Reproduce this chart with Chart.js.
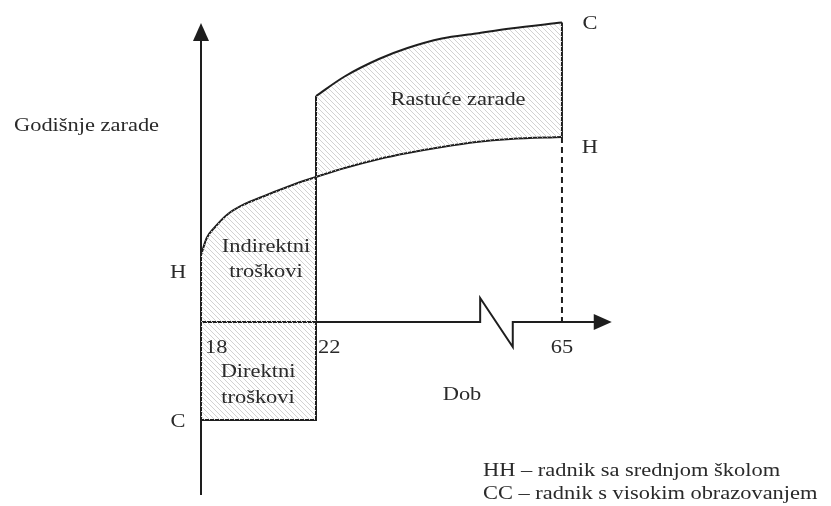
<!DOCTYPE html>
<html><head><meta charset="utf-8">
<script src="https://cdn.jsdelivr.net/npm/chart.js@4/dist/chart.umd.min.js"></script>
<style>html,body{margin:0;padding:0;background:#fff;}canvas{display:block;}</style>
</head><body>
<canvas id="c" width="831" height="506"></canvas>
<script>
// ---- data (y in arbitrary earnings units) ----
const hhAges = [18, 18.2, 18.49, 18.94, 19.53, 20.12, 20.82, 21.62, 22, 27, 33, 38, 44, 50, 56, 65];
const hhEarnings = [6.7, 8.4, 9.5, 10.8, 11.8, 12.5, 13.3, 14.15, 14.5, 15.4, 16.3, 16.9, 17.5, 18.0, 18.3, 18.5];
const ccAges = [22, 27, 33, 38, 44, 50, 56, 65];
const ccEarnings = [22.6, 24.55, 26.3, 27.4, 28.35, 28.85, 29.35, 29.95];
const schoolAges = [18, 22];
const directCost = -9.8;
const ageTicks = [18, 22, 65];
const axisBreakAges = [50.7, 56.4];
const axisBreakHeights = [2.4, -2.5];
const xAxisEndAge = 73.7;
const yAxisRange = [-17.3, 29.9];
const legendLines = ['HH \u2013 radnik sa srednjom školom', 'CC \u2013 radnik s visokim obrazovanjem'];

// broken axis: ages after 22 are drawn compressed
const BREAK_FROM = 22, COMPRESS = 0.19896;
function pos(age){ return age <= BREAK_FROM ? age : BREAK_FROM + (age - BREAK_FROM) * COMPRESS; }
function pts(ages, vals){ return ages.map((a,i)=>({x:pos(a), y:vals[i]})); }

const hhLow = hhAges.map((a,i)=>[a,hhEarnings[i]]).filter(p=>p[0]<=22);
const hhUp = hhAges.map((a,i)=>[a,hhEarnings[i]]).filter(p=>p[0]>=22);
const hhAt65 = hhEarnings[hhEarnings.length-1];
const ccAt22 = ccEarnings[0], ccAt65 = ccEarnings[ccEarnings.length-1];

// hatch pattern
function hatch(){
  const s = 5, c = document.createElement('canvas'); c.width = s; c.height = s;
  const g = c.getContext('2d');
  g.strokeStyle = '#d2d2d2'; g.lineWidth = 1;
  g.beginPath();
  g.moveTo(0,0); g.lineTo(s,s);
  g.moveTo(-1,s-1); g.lineTo(1,s+1);
  g.moveTo(s-1,-1); g.lineTo(s+1,1);
  g.stroke();
  return document.getElementById('c').getContext('2d').createPattern(c,'repeat');
}
const H = hatch();
const INK = '#1e1e1e';
const base = {showLine:true, pointRadius:0, pointHoverRadius:0, borderColor:INK, borderWidth:2, fill:false, tension:0};

const datasets = [
  // 0 direct costs fill
  {...base, data: schoolAges.map(a=>({x:pos(a), y:directCost})), borderColor:'transparent', fill:'origin', backgroundColor:H},
  // 1 indirect costs fill (HH during schooling)
  {...base, data: hhLow.map(p=>({x:pos(p[0]), y:p[1]})), borderColor:'transparent', fill:'origin', backgroundColor:H, cubicInterpolationMode:'monotone'},
  // 2 HH upper part (target for rising earnings)
  {...base, data: hhUp.map(p=>({x:pos(p[0]), y:p[1]})), borderColor:'transparent', cubicInterpolationMode:'monotone'},
  // 3 CC curve, filled to HH
  {...base, data: pts(ccAges, ccEarnings), fill:{target:2}, backgroundColor:H, cubicInterpolationMode:'monotone'},
  // 4 HH full curve
  {...base, data: pts(hhAges, hhEarnings), cubicInterpolationMode:'monotone'},
  // 5 CC during schooling: bottom + vertical at 22
  {...base, data: [{x:pos(schoolAges[0]),y:directCost},{x:pos(schoolAges[1]),y:directCost},{x:pos(schoolAges[1]),y:ccAt22}]},
  // 6 vertical at 65 between CC and HH
  {...base, data: [{x:pos(65),y:ccAt65},{x:pos(65),y:hhAt65}]},
  // 7 dashed drop at 65
  {...base, data: [{x:pos(65),y:hhAt65},{x:pos(65),y:0}], borderDash:[6,4]},
  // 8 y axis
  {...base, data: [{x:pos(18),y:yAxisRange[0]},{x:pos(18),y:yAxisRange[1]-1.2}]},
  // 9 x axis with break
  {...base, data: [
    {x:pos(18),y:0},{x:pos(axisBreakAges[0]),y:0},{x:pos(axisBreakAges[0]),y:axisBreakHeights[0]},
    {x:pos(axisBreakAges[1]),y:axisBreakHeights[1]},{x:pos(axisBreakAges[1]),y:0},{x:pos(xAxisEndAge)-0.5,y:0}]},
];

const STRETCH = 1.15;
const FONT = '19.5px "Liberation Serif", "Times New Roman", serif';
const notes = [
  {t:'Godišnje zarade', x:18, dx:-187, y:19.1, a:'left'},
  {t:'H', x:18, dx:-23, y:4.4},
  {t:'C', x:18, dx:-23, y:-10.5},
  {t:'C', x:65, dx:28, y:29.3},
  {t:'H', x:65, dx:28, y:16.9},
  {t:String(ageTicks[0]), x:ageTicks[0], dx:4, y:-3.1, a:'left'},
  {t:String(ageTicks[1]), x:ageTicks[1], dx:2, y:-3.1, a:'left'},
  {t:String(ageTicks[2]), x:ageTicks[2], dx:0, y:-3.1},
  {t:'Rastuće zarade', x:22, dx:142, y:21.7},
  {t:'Indirektni', x:18, dx:65, y:7.0},
  {t:'troškovi', x:18, dx:65, y:4.5},
  {t:'Direktni', x:18, dx:57, y:-5.5},
  {t:'troškovi', x:18, dx:57, y:-8.1},
  {t:'Dob', x:22, dx:146, y:-7.8},
  {t:legendLines[0], x:22, dx:167, y:-15.4, a:'left'},
  {t:legendLines[1], x:22, dx:167, y:-17.7, a:'left'},
];

const deco = {
  id:'deco',
  afterDatasetsDraw(chart){
    const {ctx, scales:{x,y}} = chart;
    ctx.save();
    ctx.fillStyle = INK;
    // y arrow (tip up)
    let tx = x.getPixelForValue(pos(18)), ty = y.getPixelForValue(yAxisRange[1]);
    ctx.beginPath(); ctx.moveTo(tx,ty); ctx.lineTo(tx-8,ty+18); ctx.lineTo(tx+8,ty+18); ctx.closePath(); ctx.fill();
    // x arrow (tip right)
    tx = x.getPixelForValue(pos(xAxisEndAge)); ty = y.getPixelForValue(0);
    ctx.beginPath(); ctx.moveTo(tx,ty); ctx.lineTo(tx-18,ty-8); ctx.lineTo(tx-18,ty+8); ctx.closePath(); ctx.fill();
    // texts
    ctx.fillStyle = '#2a2a2a';
    ctx.font = FONT; ctx.textBaseline = 'alphabetic';
    for (const n of notes){
      const px = x.getPixelForValue(pos(n.x)) + (n.dx||0);
      const py = y.getPixelForValue(n.y);
      ctx.save(); ctx.translate(px,py); ctx.scale(STRETCH,1);
      ctx.textAlign = n.a || 'center';
      ctx.fillText(n.t,0,0);
      ctx.restore();
    }
    ctx.restore();
  }
};

// scale: 18 -> 201px, 22 -> 316px ; y: 0 -> 322px, 10px per unit
const PXU = 28.75, XMIN = 18 - 201/PXU;
new Chart(document.getElementById('c'), {
  type:'scatter',
  data:{datasets},
  options:{
    responsive:false, animation:false, events:[],
    layout:{padding:0},
    plugins:{legend:{display:false}, tooltip:{enabled:false}, filler:{propagate:false}},
    scales:{
      x:{type:'linear', display:false, min:XMIN, max:XMIN + 831/PXU},
      y:{type:'linear', display:false, min:32.2-50.6, max:32.2}
    }
  },
  plugins:[deco]
});
</script>
</body></html>
